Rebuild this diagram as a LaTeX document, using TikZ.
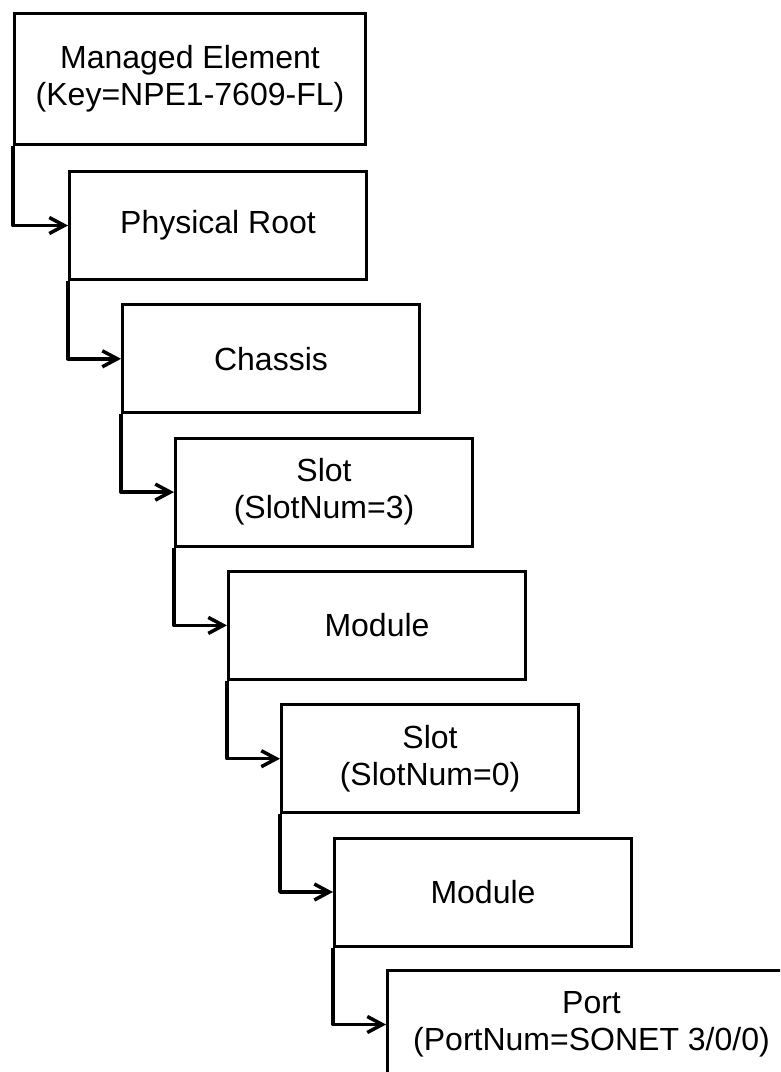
\documentclass[tikz,border=0pt]{standalone}
\usepackage{fontspec}
\setmainfont{Liberation Sans}
\usetikzlibrary{arrows.meta}

\begin{document}
\begin{tikzpicture}[x=1pt,y=-1pt]
    \tikzstyle{level}=[rectangle,draw=black,fill=white,anchor=north west,align=center,
        line width=3pt,minimum width=297pt,minimum height=108pt,inner sep=0pt,
        font=\fontsize{32}{37}\selectfont]
    \tikzstyle{link}=[draw=black,line width=3.5pt,line join=round,
        -{Straight Barb[length=15pt,width=16pt]}]
    \useasboundingbox (0,0) rectangle (780,1072);
    \clip (0,0) rectangle (780,1072);

    \node[level,minimum width=351pt,minimum height=131pt] (L-0) at (13,12)
        {Managed Element\\(Key=NPE1-7609-FL)};

    \foreach \num/\name in {1/Physical Root, 2/Chassis, 3/Slot\\(SlotNum=3),
                            4/Module, 5/Slot\\(SlotNum=0), 6/Module}
            \node[level] (L-\num) at (15+53*\num,36.7+133.3*\num) {\name};

    \node[level,minimum width=408pt] (L-7) at (386,969)
        {Port\\(PortNum=SONET 3/0/0)};

        \foreach \from/\to in {0/1, 1/2, 2/3, 3/4, 4/5, 5/6, 6/7}
            \draw[link] (L-\from.south west) |- (L-\to.west);
\end{tikzpicture}
\end{document}
